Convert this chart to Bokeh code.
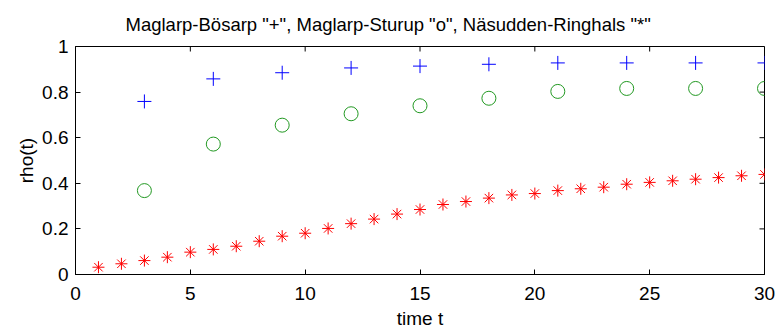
import math
from bokeh.plotting import figure
from bokeh.models import Range1d, FixedTicker, Title
from bokeh.embed import file_html
from bokeh.resources import INLINE

t_plus = [3, 6, 9, 12, 15, 18, 21, 24, 27, 30]
rho_mb = [0.759, 0.858, 0.885, 0.906, 0.914, 0.922, 0.928, 0.928, 0.928, 0.928]
t_circ = [3, 6, 9, 12, 15, 18, 21, 24, 27, 30]
rho_ms = [0.368, 0.572, 0.655, 0.705, 0.740, 0.773, 0.803, 0.816, 0.816, 0.816]
t_star = list(range(1, 31))
rho_nr = [0.032, 0.047, 0.061, 0.076, 0.098, 0.110, 0.124, 0.146, 0.168, 0.181,
          0.202, 0.223, 0.243, 0.265, 0.285, 0.307, 0.320, 0.335, 0.349, 0.355,
          0.368, 0.376, 0.383, 0.396, 0.404, 0.411, 0.418, 0.425, 0.433, 0.439]
x_ticks = [0, 5, 10, 15, 20, 25, 30]
y_ticks = [0, 0.2, 0.4, 0.6, 0.8, 1]
x_min, x_max = 0, 30
y_min, y_max = 0, 1
title_text = 'Maglarp-Bösarp "+", Maglarp-Sturup "o", Näsudden-Ringhals "*"'

FONT = "Liberation Sans"

p = figure(output_backend="svg", toolbar_location=None,
           frame_width=689, frame_height=228,
           min_border_left=75, min_border_top=46, min_border_right=11, min_border_bottom=55,
           x_range=Range1d(x_min, x_max), y_range=Range1d(y_min, y_max),
           background_fill_color="white", border_fill_color="white")
p.title = None
p.add_layout(Title(text=title_text, align="left", offset=50, text_font=FONT,
                   text_font_size="18.5px", text_font_style="normal", text_color="black",
                   vertical_align="top", standoff=19), "above")

p.xgrid.visible = False
p.ygrid.visible = False
p.outline_line_color = "black"
p.outline_line_width = 1

for ax in p.xaxis + p.yaxis:
    ax.major_tick_in = 5
    ax.major_tick_out = 0
    ax.minor_tick_in = 0
    ax.minor_tick_out = 0
    ax.axis_line_color = "black"
    ax.major_tick_line_color = "black"
    ax.major_label_text_font = FONT
    ax.major_label_text_font_size = "19px"
    ax.major_label_text_color = "black"
    ax.axis_label_text_font = FONT
    ax.axis_label_text_font_size = "19px"
    ax.axis_label_text_font_style = "normal"
    ax.axis_label_text_color = "black"

p.xaxis.ticker = FixedTicker(ticks=x_ticks)
p.yaxis.ticker = FixedTicker(ticks=y_ticks)
p.xaxis.axis_label = "time t"
p.yaxis.axis_label = "rho(t)"
p.xaxis.major_label_standoff = 12
p.xaxis.axis_label_standoff = 5
p.yaxis.major_label_standoff = 7
p.yaxis.axis_label_standoff = 2

# inward ticks on the top and right edges of the box
p.ray(x=x_ticks, y=[y_max] * len(x_ticks), length=5, length_units="screen",
      angle=-math.pi / 2, line_color="black", line_width=1)
p.ray(x=[x_max] * len(y_ticks), y=y_ticks, length=5, length_units="screen",
      angle=math.pi, line_color="black", line_width=1)

p.scatter(t_plus, rho_mb, marker="cross", size=14, line_color="blue", line_width=1)
p.scatter(t_circ, rho_ms, marker="circle", size=14, line_color="#229922", fill_alpha=0, line_width=1)
p.scatter(t_star, rho_nr, marker="asterisk", size=12, line_color="red", line_width=1)

open("out.html", "w").write(file_html(p, INLINE))
